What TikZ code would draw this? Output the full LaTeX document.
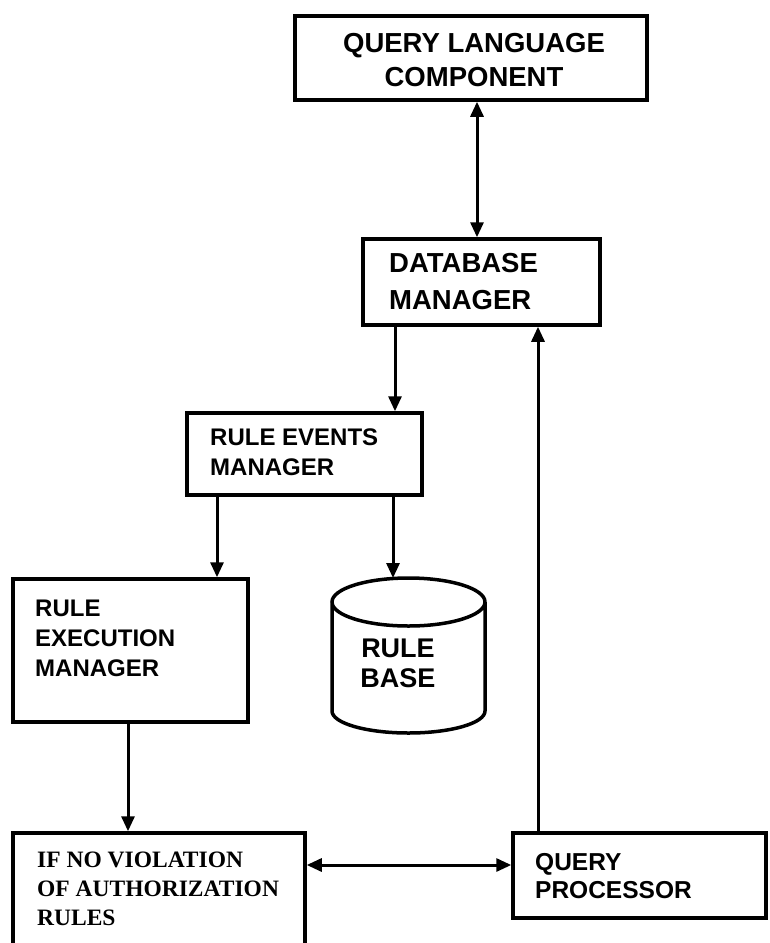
\documentclass[tikz,border=0pt]{standalone}
\usepackage{fontspec}
\setmainfont{Liberation Sans}
\newfontfamily\serifbold{Liberation Serif}
\usetikzlibrary{arrows.meta}
\begin{document}
\begin{tikzpicture}[x=1pt,y=-1pt,
  box/.style={draw,line width=3.5pt,rectangle,inner sep=0pt},
  lbl/.style={inner sep=0pt,align=left,anchor=west,font=\bfseries\fontsize{24}{30}\selectfont},
  conn/.style={line width=3pt,-{Triangle[width=13pt,length=15pt]}},
  dconn/.style={line width=3pt,{Triangle[width=13pt,length=15pt]}-{Triangle[width=13pt,length=15pt]}}]
\useasboundingbox (0,0) rectangle (769,943);
% boxes
\node[box,minimum width=352pt,minimum height=84pt] (qlc) at (471,58) {};
\node[box,minimum width=237pt,minimum height=86pt] (db) at (481.5,282) {};
\node[box,minimum width=235pt,minimum height=82pt] (rem) at (304.5,454) {};
\node[box,minimum width=235pt,minimum height=143pt] (rex) at (130.5,650.5) {};
\node[box,minimum width=292pt,minimum height=127pt] (inv) at (159,896.5) {};
\node[box,minimum width=253pt,minimum height=85pt] (qp) at (639.5,875.5) {};
% cylinder (rule base)
\draw[line width=3.5pt] (332,602) -- (332,711) arc[start angle=180,end angle=0,x radius=76.5,y radius=22] -- (485,602)
  arc[start angle=0,end angle=360,x radius=76.5,y radius=24];
\coordinate (rbtop) at (393,578);
% texts
\node[inner sep=0pt,align=center,font=\bfseries\fontsize{27.5}{34}\selectfont] (tqlc) at (474,60) {QUERY LANGUAGE\\COMPONENT};
\node[lbl,font=\bfseries\fontsize{27.5}{37}\selectfont] (tdb) at (389,281.5) {DATABASE\\MANAGER};
\node[lbl] (trem) at (210,452) {RULE EVENTS\\MANAGER};
\node[lbl] (trex) at (35,638) {RULE\\EXECUTION\\MANAGER};
\node[lbl,font=\serifbold\bfseries\fontsize{23.5}{29}\selectfont] (tinv) at (37,889) {IF NO VIOLATION\\OF AUTHORIZATION\\RULES};
\node[lbl,font=\bfseries\fontsize{24.5}{28}\selectfont] (tqp) at (535,876) {QUERY\\PROCESSOR};
\node[inner sep=0pt,align=center,font=\bfseries\fontsize{27}{30}\selectfont] (trb) at (398,663) {RULE\\BASE};
% connectors
\draw[dconn] (qlc.south -| 477,0) -- (db.north -| 477,0);
\draw[conn] (db.south -| 395,0) -- (rem.north -| 395,0);
\draw[conn] (rem.south -| 217,0) -- (rex.north -| 217,0);
\draw[conn] (rem.south -| 393,0) -- (rbtop);
\draw[conn] (rex.south -| 128,0) -- (inv.north -| 128,0);
\draw[dconn] (inv.east |- 0,865) -- (qp.west |- 0,865);
\draw[conn] (qp.north -| 538,0) -- (db.south -| 538,0);
\end{tikzpicture}
\end{document}
